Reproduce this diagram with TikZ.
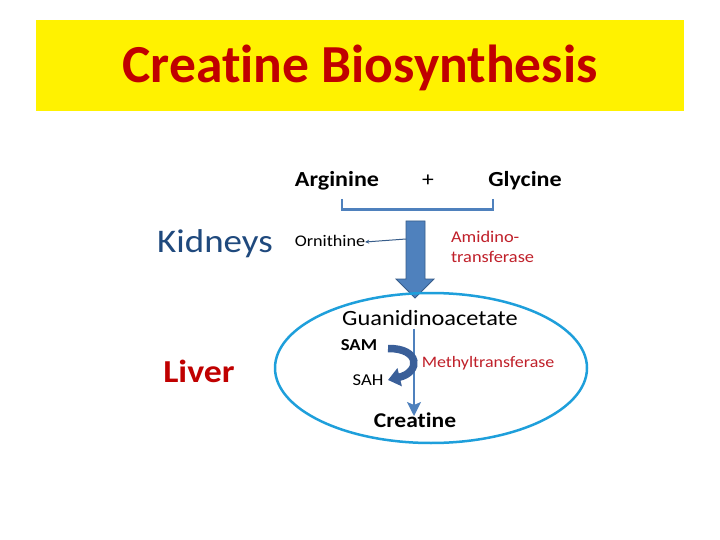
\documentclass[tikz,border=0pt]{standalone}
\usepackage{fontspec}
\setmainfont{Carlito}[FakeStretch=1.12, Ligatures=NoCommon]
\newfontfamily\titlefont{Carlito}[Ligatures=NoCommon]
\usetikzlibrary{arrows.meta}
\definecolor{titlered}{HTML}{C00000}
\definecolor{enzred}{HTML}{C0202A}
\definecolor{kblue}{HTML}{1F497D}
\definecolor{accent}{HTML}{4F81BD}
\definecolor{accentdark}{HTML}{385D8A}
\definecolor{curvblue}{HTML}{3A5F99}
\definecolor{ellblue}{HTML}{1E9FDB}
\tikzset{
  lbl/.style={anchor=base, inner sep=0pt, outer sep=0pt},
  enz/.style={lbl, text=enzred},
}
\begin{document}
\begin{tikzpicture}[x=1pt,y=-1pt]
\useasboundingbox (0,0) rectangle (720,540);
\fill[white] (0,0) rectangle (720,540);
% title
\fill[yellow] (36,20) rectangle (684,111);
\node[lbl, text=titlered, font=\titlefont\fontsize{53.5}{60}\selectfont\bfseries] (title) at (360,83) {Creatine Biosynthesis};
% kidneys part
\node[lbl, font=\fontsize{21.5}{25}\selectfont\bfseries] (arg) at (337,187) {Arginine};
\node[lbl, font=\fontsize{21}{25}\selectfont] (plus) at (428,187) {+};
\node[lbl, font=\fontsize{21.5}{25}\selectfont\bfseries] (gly) at (525,187) {Glycine};
\node[lbl, text=kblue, font=\fontsize{33}{38}\selectfont] (kid) at (215,252) {Kidneys};
\node[lbl, text=titlered, font=\fontsize{32}{38}\selectfont\bfseries] (liv) at (199,382) {Liver};
\node[lbl, font=\fontsize{16.2}{19}\selectfont] (orn) at (330,247) {Ornithine};
\node[enz, anchor=base west, font=\fontsize{16.4}{19}\selectfont] (ami1) at (451,243) {Amidino-};
\node[enz, anchor=base west, font=\fontsize{16.4}{19}\selectfont] (ami2) at (451,262) {transferase};
% bracket
\coordinate (bl) at (342,199);
\coordinate (br) at (493,199);
\draw[accent, line width=1.2pt] (bl) -- (342,210);
\draw[accent, line width=1.2pt] (br) -- (493,210);
\draw[accent, line width=3pt] (341.4,210) -- (493.6,210);
% fat arrow
\draw[accentdark, fill=accent, line width=0.8pt, line join=miter]
  (406,221) -- (425,221) -- (425,279) -- (434,279) -- (415,298) -- (396,279) -- (406,279) -- cycle;
\coordinate (ornstart) at (406,239);
\draw[accentdark, line width=1pt, -{Stealth[length=4pt,width=4pt]}] (ornstart) -- (orn.east |- 0,242) ;
% liver ellipse
\draw[ellblue, line width=2.5pt] (431,368) ellipse [x radius=156, y radius=75];
\node[lbl, font=\fontsize{21.75}{25}\selectfont] (gaa) at (430,325) {Guanidinoacetate};
\node[lbl, font=\fontsize{16.7}{19}\selectfont\bfseries] (sam) at (359,350) {SAM};
\node[lbl, font=\fontsize{16.6}{19}\selectfont] (sah) at (368,385) {SAH};
\node[enz, font=\fontsize{16}{19}\selectfont] (mt) at (488,367) {Methyltransferase};
\node[lbl, font=\fontsize{21}{25}\selectfont\bfseries] (cre) at (415,427) {Creatine};
\draw[accent, line width=1.6pt, -{Stealth[length=14pt,width=14pt,inset=3pt]}] (414,329) -- (414,416);
\draw[curvblue, line width=7.5pt, -{Triangle[length=12pt,width=18pt]}]
  (388,348.5) .. controls (420,348) and (421,372) .. (388,380);
\end{tikzpicture}
\end{document}
